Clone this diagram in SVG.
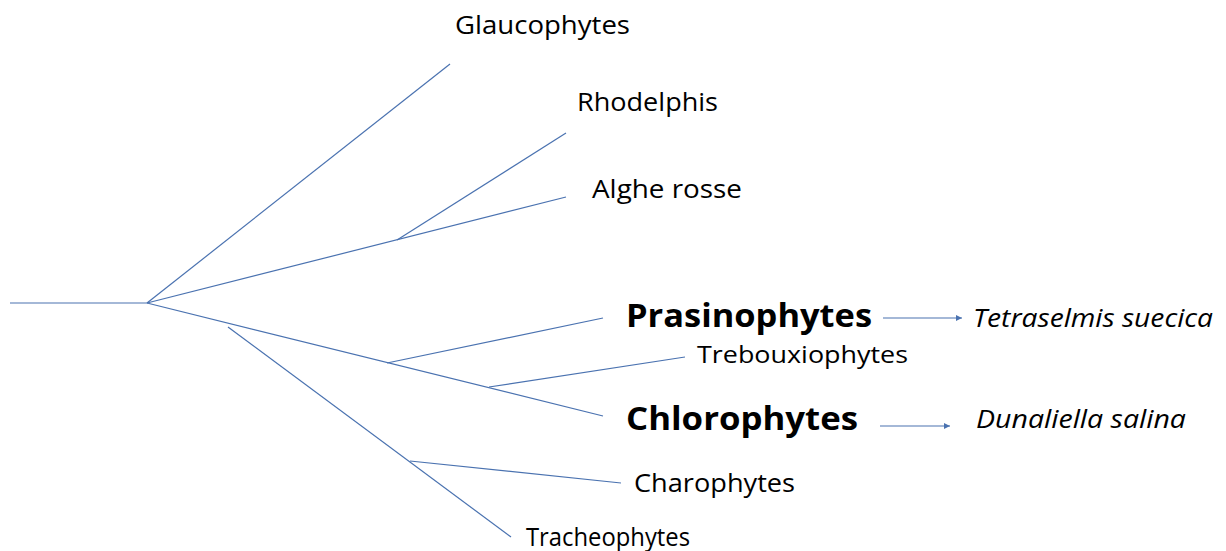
<svg xmlns="http://www.w3.org/2000/svg" width="1226" height="551" viewBox="0 0 1226 551">
<style>
.ln{stroke:#4a72b0;stroke-width:1.2;fill:none}
.t{font-family:"Open Sans","Noto Sans",sans-serif;fill:#000}
.n{font-size:25px}
.b{font-size:33px;font-weight:bold}
.i{font-size:25px;font-style:italic}
</style>
<defs>
<marker id="ah" markerWidth="8" markerHeight="8" refX="6" refY="3" orient="auto" markerUnits="userSpaceOnUse">
<path d="M0,0 L6,3 L0,6 Z" fill="#4a72b0"/>
</marker>
</defs>
<rect width="1226" height="551" fill="#fff"/>
<g id="connectors">
<line class="ln" x1="10" y1="303" x2="147" y2="303"/>
<line class="ln" x1="147" y1="303" x2="450" y2="64"/>
<line class="ln" x1="147" y1="303" x2="566" y2="197"/>
<line class="ln" x1="397" y1="240" x2="566" y2="133"/>
<line class="ln" x1="147" y1="303" x2="603" y2="416"/>
<line class="ln" x1="387" y1="363" x2="603" y2="318"/>
<line class="ln" x1="489" y1="387" x2="685" y2="357"/>
<line class="ln" x1="228" y1="327" x2="511" y2="537"/>
<line class="ln" x1="410" y1="461" x2="621" y2="483"/>
<line class="ln" x1="883" y1="318" x2="962" y2="318" marker-end="url(#ah)"/>
<line class="ln" x1="880" y1="426" x2="950" y2="426" marker-end="url(#ah)"/>
</g>
<g id="glaucophytes"><text class="t n" x="455" y="34" textLength="175" lengthAdjust="spacingAndGlyphs">Glaucophytes</text></g>
<g id="rhodelphis"><text class="t n" x="577" y="111" textLength="141" lengthAdjust="spacingAndGlyphs">Rhodelphis</text></g>
<g id="alghe-rosse"><text class="t n" x="592" y="198" textLength="150" lengthAdjust="spacingAndGlyphs">Alghe rosse</text></g>
<g id="prasinophytes"><text class="t b" x="626" y="327" textLength="246" lengthAdjust="spacingAndGlyphs">Prasinophytes</text></g>
<g id="tetraselmis"><text class="t i" x="973" y="327" textLength="240" lengthAdjust="spacingAndGlyphs">Tetraselmis suecica</text></g>
<g id="trebouxiophytes"><text class="t" style="font-size:24px" x="697" y="363" textLength="211" lengthAdjust="spacingAndGlyphs">Trebouxiophytes</text></g>
<g id="chlorophytes"><text class="t b" x="626" y="430" textLength="232" lengthAdjust="spacingAndGlyphs">Chlorophytes</text></g>
<g id="dunaliella"><text class="t i" x="976" y="428" textLength="210" lengthAdjust="spacingAndGlyphs">Dunaliella salina</text></g>
<g id="charophytes"><text class="t n" x="634" y="492" textLength="161" lengthAdjust="spacingAndGlyphs">Charophytes</text></g>
<g id="tracheophytes"><text class="t n" x="526" y="546" textLength="164" lengthAdjust="spacingAndGlyphs">Tracheophytes</text></g>
</svg>
